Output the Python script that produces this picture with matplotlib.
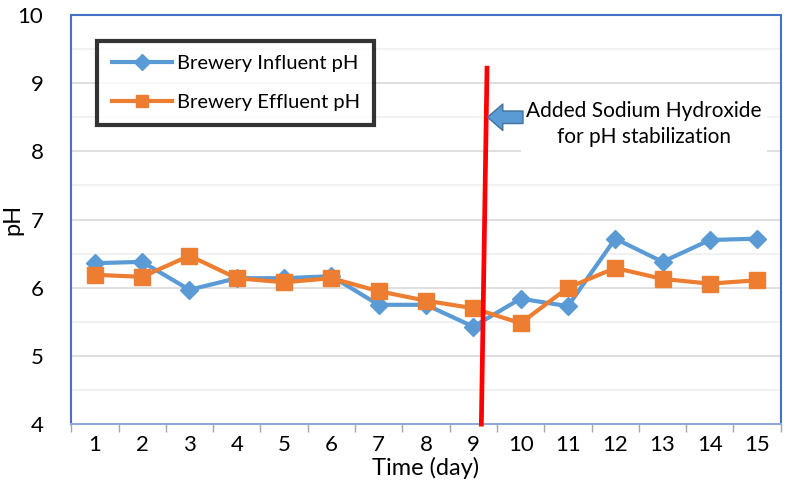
import matplotlib
matplotlib.use("Agg")
import matplotlib.pyplot as plt
from matplotlib.patches import Rectangle
from matplotlib.ticker import MultipleLocator

plt.rcParams["font.family"] = ["Lato", "DejaVu Sans"]

# ── Data ──
days = list(range(1, 16))
influent_ph = [6.36, 6.38, 5.97, 6.14, 6.14, 6.17, 5.75, 5.75, 5.43, 5.84,
               5.73, 6.72, 6.38, 6.70, 6.72]
effluent_ph = [6.19, 6.16, 6.47, 6.14, 6.08, 6.14, 5.95, 5.81, 5.70, 5.48,
               6.00, 6.29, 6.13, 6.06, 6.11]

# NaOH dosing marker (slightly slanted red line, as drawn by hand)
naoh_x = [9.29, 9.17]
naoh_y = [9.22, 4.0]

BLUE = "#5B9BD5"
ORANGE = "#ED7D31"
FRAME = "#4472C4"

fig = plt.figure(figsize=(8.0, 4.99), dpi=100)
ax = fig.add_axes([0.089, 0.150, 0.887, 0.820])

ax.plot(days, influent_ph, "-D", color=BLUE, lw=3.0, ms=9.5,
        label="Brewery Influent pH", zorder=3)
ax.plot(days, effluent_ph, "-s", color=ORANGE, lw=3.0, ms=12,
        label="Brewery Effluent pH", zorder=3)

ax.plot(naoh_x, naoh_y, color="#FF0000", lw=3.4, zorder=4, clip_on=False)

# text box with white background hiding the gridlines
ax.add_patch(Rectangle((10.0, 7.9), 5.2, 0.9, facecolor="white",
                       edgecolor="none", zorder=1.5))
ax.text(12.6, 8.4, "Added Sodium Hydroxide\nfor pH stabilization",
        ha="center", va="center", fontsize=15, linespacing=1.4, zorder=5)
ax.annotate("", xy=(9.3, 8.5), xytext=(10.05, 8.5),
            arrowprops=dict(arrowstyle="simple,head_length=0.55,head_width=0.95,tail_width=0.45",
                            mutation_scale=20, fc=BLUE, ec="#41719C", lw=1.0,
                            shrinkA=0, shrinkB=0),
            zorder=5)

ax.set_xlim(0.5, 15.5)
ax.set_ylim(4, 10)
ax.set_xticks(days)
ax.set_xticks([d + 0.5 for d in [0] + days], minor=True)
ax.tick_params(axis="x", which="major", length=0, labelsize=16, pad=8)
ax.tick_params(axis="x", which="minor", length=6, color="#A6A6A6", width=1)
ax.yaxis.set_major_locator(MultipleLocator(1))
ax.yaxis.set_minor_locator(MultipleLocator(0.5))
ax.tick_params(axis="y", which="both", length=0, labelsize=16, pad=20)

ax.grid(axis="y", which="major", color="#D9D9D9", lw=1.2, zorder=0)
ax.grid(axis="y", which="minor", color="#EFEFEF", lw=1.2, zorder=0)
ax.set_axisbelow(True)

for sp in ax.spines.values():
    sp.set_color(FRAME)
    sp.set_linewidth(1.5)
ax.spines["bottom"].set_color("#8EA9DB")

ax.set_xlabel("Time (day)", fontsize=17, labelpad=1)
ax.set_ylabel("pH", fontsize=17, labelpad=-4)

leg = ax.legend(loc="upper left", bbox_to_anchor=(0.037, 0.936), fontsize=14.5,
                frameon=True, fancybox=False, borderpad=0.7, labelspacing=1.05,
                handlelength=3.0, handletextpad=0.25, borderaxespad=0)
leg.get_frame().set_edgecolor("black")
leg.get_frame().set_linewidth(3)
for h in leg.legend_handles:
    h.set_markersize(8)

fig.savefig("out.png", dpi=100)
